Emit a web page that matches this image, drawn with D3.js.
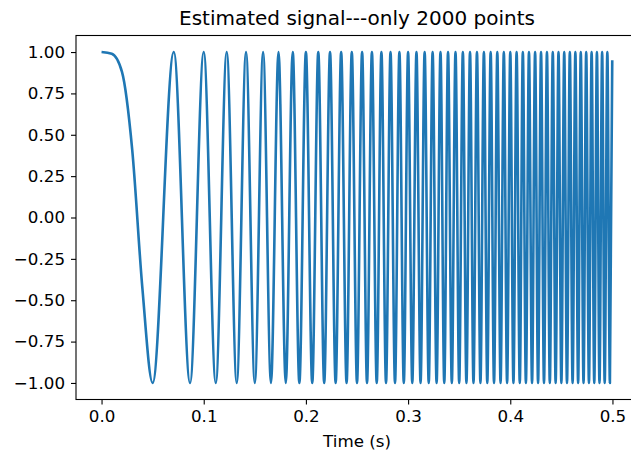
<!DOCTYPE html>
<html>
<head>
<meta charset="utf-8">
<script src="https://cdn.jsdelivr.net/npm/d3@7"></script>
<style>
  body { margin: 0; background: #fff; }
  text { font-family: "DejaVu Sans", sans-serif; fill: #000; }
</style>
</head>
<body>
<div id="my_dataviz"></div>
<script>
// extrema (and a few shoulder points) read off the estimated signal
var times = [0, 0.01, 0.02, 0.03, 0.04,
  0.05, 0.0707, 0.0866, 0.1, 0.1118, 0.1225, 0.1323, 0.1414, 0.15, 0.1581,
  0.1658, 0.1732, 0.1803, 0.1871, 0.1936, 0.2, 0.2062, 0.2121, 0.2179, 0.2236,
  0.2291, 0.2345, 0.2398, 0.2449, 0.25, 0.2550, 0.2598, 0.2646, 0.2693, 0.2739,
  0.2784, 0.2828, 0.2872, 0.2915, 0.2958, 0.3, 0.3041, 0.3082, 0.3122, 0.3162,
  0.3202, 0.3240, 0.3279, 0.3317, 0.3354, 0.3391, 0.3428, 0.3464, 0.35, 0.3536,
  0.3571, 0.3606, 0.3640, 0.3674, 0.3708, 0.3742, 0.3775, 0.3808, 0.3841, 0.3873,
  0.3905, 0.3937, 0.3969, 0.4, 0.4031, 0.4062, 0.4093, 0.4123, 0.4153, 0.4183,
  0.4213, 0.4243, 0.4272, 0.4301, 0.4330, 0.4359, 0.4387, 0.4416, 0.4444, 0.4472,
  0.45, 0.4528, 0.4555, 0.4583, 0.4610, 0.4637, 0.4664, 0.4690, 0.4717, 0.4743,
  0.4770, 0.4796, 0.4822, 0.4848, 0.4873, 0.4899, 0.4924, 0.4950, 0.4975, 0.4998];

var values = [1, 0.99, 0.88, 0.41, -0.43,
  -1, 1, -1, 1, -1, 1, -1, 1, -1, 1,
  -1, 1, -1, 1, -1, 1, -1, 1, -1, 1,
  -1, 1, -1, 1, -1, 1, -1, 1, -1, 1,
  -1, 1, -1, 1, -1, 1, -1, 1, -1, 1,
  -1, 1, -1, 1, -1, 1, -1, 1, -1, 1,
  -1, 1, -1, 1, -1, 1, -1, 1, -1, 1,
  -1, 1, -1, 1, -1, 1, -1, 1, -1, 1,
  -1, 1, -1, 1, -1, 1, -1, 1, -1, 1,
  -1, 1, -1, 1, -1, 1, -1, 1, -1, 1,
  -1, 1, -1, 1, -1, 1, -1, 1, -1, 0.95];

var xTicks = [0, 0.1, 0.2, 0.3, 0.4, 0.5];
var yTicks = [-1, -0.75, -0.5, -0.25, 0, 0.25, 0.5, 0.75, 1];

function draw(){
    var margin = {top: 35.5, right: -7, bottom: 57.5, left: 76},
        width = 631 - margin.left - margin.right,
        height = 457 - margin.top - margin.bottom;

    var svg = d3.select("#my_dataviz")
        .append("svg")
            .attr("width", 631)
            .attr("height", 457)
        .append("g")
            .attr("transform", "translate(" + margin.left + "," + margin.top + ")");

    var data = times.map(function(t, i){ return {time: t, value: values[i]} });

    var x = d3.scaleLinear().domain([-0.025, 0.525]).range([0, width]);
    var y = d3.scaleLinear().domain([-1.1, 1.1]).range([height, 0]);

    // axes
    var xAxis = svg.append("g")
        .attr("transform", "translate(0," + height + ")")
        .call(d3.axisBottom(x).tickValues(xTicks).tickSize(5).tickPadding(6)
            .tickFormat(d3.format(".1f")));
    var yAxis = svg.append("g")
        .call(d3.axisLeft(y).tickValues(yTicks).tickSize(5).tickPadding(6)
            .tickFormat(function(d){ return d3.format(".2f")(d).replace("-", "\u2212") }));

    [xAxis, yAxis].forEach(function(a){
        a.select(".domain").remove();
        a.selectAll("line").attr("stroke", "#000").attr("stroke-width", 1.1);
        a.selectAll("text").style("font-size", "16.7px").attr("fill", "#000");
    });

    // the signal
    svg.append("path")
        .datum(data)
        .attr("d", d3.line()
            .curve(d3.curveMonotoneX)
            .x(function(d){ return x(d.time) })
            .y(function(d){ return y(d.value) }))
        .attr("fill", "none")
        .attr("stroke", "#1f77b4")
        .attr("stroke-width", 2.6)
        .attr("stroke-linejoin", "round");

    // frame
    svg.append("rect")
        .attr("width", width).attr("height", height)
        .attr("fill", "none").attr("stroke", "#000").attr("stroke-width", 1.1);

    svg.append("text")
        .attr("x", width / 2).attr("y", 25 - margin.top)
        .attr("text-anchor", "middle")
        .style("font-size", "20px")
        .text("Estimated signal---only 2000 points");

    svg.append("text")
        .attr("x", width / 2).attr("y", 447 - margin.top)
        .attr("text-anchor", "middle")
        .style("font-size", "16.7px")
        .text("Time (s)");
}
draw();
</script>
</body>
</html>
